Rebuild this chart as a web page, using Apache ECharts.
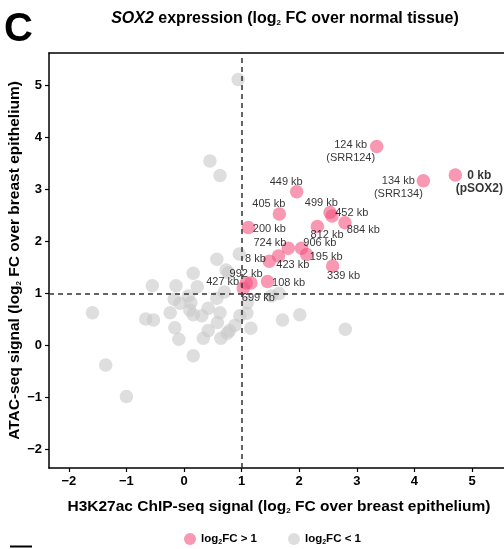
<!DOCTYPE html>
<html>
<head>
<meta charset="utf-8">
<script src="https://cdn.jsdelivr.net/npm/echarts@6/dist/echarts.min.js"></script>
<style>html,body{margin:0;padding:0;background:#fff}#c{width:504px;height:549px}</style>
</head>
<body>
<div id="c"></div>
<script>
// ---- data ----
var xTicks = [-2, -1, 0, 1, 2, 3, 4, 5];
var yTicks = [-2, -1, 0, 1, 2, 3, 4, 5];

var pinkLabels = ['0 kb\n(pSOX2)', '124 kb\n(SRR124)', '134 kb\n(SRR134)', '449 kb', '405 kb', '200 kb',
  '499 kb', '452 kb', '884 kb', '812 kb', '724 kb', '906 kb', '195 kb', '423 kb', '8 kb', '339 kb',
  '108 kb', '992 kb', '427 kb', '699 kb'];
var pinkX = [4.71, 3.345, 4.155, 1.956, 1.655, 1.117, 2.535, 2.57, 2.795, 2.315, 1.81, 2.04, 2.13, 1.64, 1.48, 2.58, 1.45, 1.16, 1.08, 1.03];
var pinkY = [3.28, 3.83, 3.17, 2.96, 2.53, 2.27, 2.56, 2.49, 2.36, 2.29, 1.87, 1.87, 1.75, 1.72, 1.62, 1.53, 1.23, 1.20, 1.20, 1.10];

var grayX = [0.94, 0.45, 0.625, -1.59, -1.36, -1.0, -0.665, -0.53, -0.55, -0.14, 0.16, 0.23,
  0.57, 0.73, 0.77, 0.96, 0.075, -0.17, -0.07, 0.12, 0.10, -0.24, 0.16, 0.31, 0.42, 0.625, 0.57, 0.70,
  -0.16, -0.09, 0.16, 0.335, 0.42, 0.58, 0.64, 0.75, 0.79, 0.885, 0.97, 1.09, 1.16, 1.10,
  1.52, 1.65, 1.71, 2.01, 2.80];
var grayY = [5.12, 3.55, 3.27, 0.63, -0.375, -0.985, 0.51, 0.49, 1.15, 1.15, 1.39, 1.13,
  1.66, 1.45, 1.40, 1.76, 0.95, 0.89, 0.81, 0.82, 0.68, 0.63, 0.59, 0.57, 0.715, 0.63, 0.91, 1.03,
  0.34, 0.12, -0.2, 0.14, 0.285, 0.44, 0.14, 0.235, 0.285, 0.39, 0.57, 0.62, 0.33, 0.82,
  0.95, 1.0, 0.49, 0.59, 0.31];

var thresholdX = 1, thresholdY = 1;

// ---- label placement (px offsets from point centre) ----
var labelOffsets = [[24, 7], [-26, 5], [-25, 7], [-10.5, -9.5], [-10.5, -10], [21, 1],
  [-8.7, -9.6], [19.7, -2.7], [18.3, 7], [9.7, 8.6], [-18.3, -5], [18.3, -5], [19.5, 2.4], [14.4, 9],
  [-13.8, -2.7], [11, 10], [21, 1], [-4.7, -9], [-23.5, -1], [15, 9.4]];

var FONT = '"Liberation Sans", Arial, Helvetica, sans-serif';

var pinkData = pinkX.map(function (x, i) {
  return {
    value: [x, pinkY[i]],
    label: {
      show: true,
      formatter: pinkLabels[i],
      position: 'inside',
      offset: labelOffsets[i],
      align: 'center',
      verticalAlign: 'middle',
      color: '#000',
      textBorderWidth: 0,
      textBorderColor: 'transparent',
      fontFamily: FONT,
      fontSize: i === 0 ? 12 : 11,
      fontWeight: i === 0 ? 'bold' : 'normal',
      lineHeight: 13
    }
  };
});
var grayData = grayX.map(function (x, i) { return [x, grayY[i]]; });

function rt(size) { return { fontSize: size, fontWeight: 'bold', fontFamily: FONT, color: '#000' }; }
function sb(size, pad) { return { fontSize: size, fontWeight: 'bold', fontFamily: FONT, color: '#000', padding: [pad, 0, 0, 0] }; }

var chart = echarts.init(document.getElementById('c'), null, { renderer: 'canvas' });
chart.setOption({
  animation: false,
  backgroundColor: '#fff',
  title: {
    text: '{i|SOX2}{b| expression (log}{s|2}{b| FC over normal tissue)}',
    left: 280, top: 5, textAlign: 'center',
    textStyle: {
      rich: {
        i: { fontSize: 16, fontWeight: 'bold', fontStyle: 'italic', fontFamily: FONT, color: '#000' },
        b: rt(16),
        s: sb(8, 9)
      }
    }
  },
  graphic: [
    { type: 'text', left: 4, top: 10, style: { text: 'C', font: 'bold 40px ' + FONT, fill: '#000' } },
    { type: 'line', shape: { x1: 10, y1: 546.5, x2: 32, y2: 546.5 }, style: { stroke: '#000', lineWidth: 2 } }
  ],
  legend: {
    left: 184, top: 533, padding: 0,
    itemWidth: 12, itemHeight: 12, itemGap: 31,
    icon: 'circle',
    data: ['hi', 'lo'],
    formatter: function (n) {
      return n === 'hi' ? '{a|log}{s|2}{a|FC > 1}' : '{a|log}{s|2}{a|FC < 1}';
    },
    textStyle: { rich: { a: rt(11.5), s: sb(7, 6) } }
  },
  grid: { left: 49, top: 53, width: 460, height: 415, containLabel: false, outerBoundsMode: 'none' },
  xAxis: [{
    type: 'value', min: -2.344, max: 5.642,
    axisLine: { show: true, onZero: false, lineStyle: { color: '#000', width: 1.5 } },
    axisTick: { show: true, length: 4, customValues: xTicks, lineStyle: { color: '#000', width: 1.2 } },
    axisLabel: { customValues: xTicks, margin: 7, color: '#000', fontWeight: 'bold', fontSize: 13, fontFamily: FONT,
      formatter: function (v) { return String(v).replace('-', '\u2212'); } },
    splitLine: { show: false },
    name: '{b|H3K27ac ChIP-seq signal (log}{s|2}{b| FC over breast epithelium)}',
    nameLocation: 'middle', nameGap: 30, nameMoveOverlap: false,
    nameTextStyle: { rich: { b: rt(15.5), s: sb(8, 9) } }
  }, {
    type: 'value', position: 'top', min: -2.344, max: 5.642,
    axisLine: { show: true, onZero: false, lineStyle: { color: '#000', width: 1.5 } },
    axisTick: { show: false }, axisLabel: { show: false }, splitLine: { show: false }
  }],
  yAxis: {
    type: 'value', min: -2.36, max: 5.63,
    axisLine: { show: true, onZero: false, lineStyle: { color: '#000', width: 1.5 } },
    axisTick: { show: true, length: 4, customValues: yTicks, lineStyle: { color: '#000', width: 1.2 } },
    axisLabel: { customValues: yTicks, margin: 7, color: '#000', fontWeight: 'bold', fontSize: 13, fontFamily: FONT,
      formatter: function (v) { return String(v).replace('-', '\u2212'); } },
    splitLine: { show: false },
    name: '{b|ATAC-seq signal (log}{s|2}{b| FC over breast epithelium)}',
    nameLocation: 'middle', nameGap: 26, nameRotate: 90, nameMoveOverlap: false,
    nameTextStyle: { rich: { b: rt(15.5), s: sb(8, 9) } }
  },
  series: [{
    name: 'lo', type: 'scatter', symbolSize: 13.5, data: grayData,
    itemStyle: { color: 'rgba(200,200,200,0.75)' },
    markLine: {
      silent: true, symbol: 'none', label: { show: false },
      lineStyle: { color: '#333', type: [5, 4], width: 1.5 },
      data: [{ xAxis: thresholdX }, { yAxis: thresholdY }]
    }
  }, {
    name: 'hi', type: 'scatter', symbolSize: 13.5, data: pinkData,
    itemStyle: { color: 'rgba(243,84,128,0.75)' }
  }]
});
</script>
</body>
</html>
